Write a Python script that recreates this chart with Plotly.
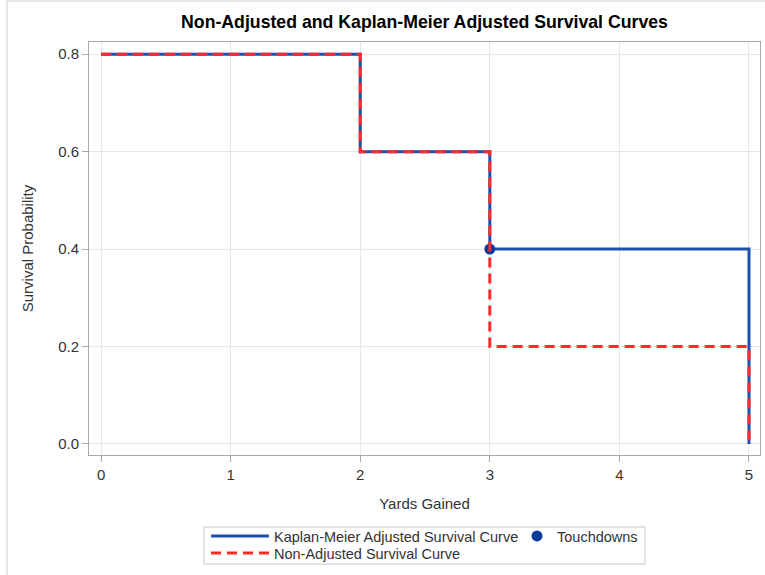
import plotly.graph_objects as go

# Data
yards_km = [0, 2, 3, 5]
surv_km = [0.8, 0.6, 0.4, 0.0]
yards_na = [0, 2, 3, 5]
surv_na = [0.8, 0.6, 0.2, 0.0]
td_yards = [3]
td_surv = [0.4]
x_ticks = [0, 1, 2, 3, 4, 5]
y_ticks = [0.0, 0.2, 0.4, 0.6, 0.8]

W, H = 765, 575
L, R, T, B = 89, 5, 42, 120
pw = W - L - R
ph = H - T - B

def px_x(p):
    return (p - L) / pw

def px_y(p):
    return (H - B - p) / ph

FONT = "Liberation Sans, Arial, sans-serif"
TXT = "#333333"

fig = go.Figure()
fig.add_trace(go.Scatter(
    x=yards_km, y=surv_km, mode="lines", line_shape="hv",
    line=dict(color="#1d4fae", width=3),
    name="Kaplan-Meier Adjusted Survival Curve", legend="legend"))
fig.add_trace(go.Scatter(
    x=td_yards, y=td_surv, mode="markers",
    marker=dict(color="#0a3a9e", size=11),
    name="Touchdowns", legend="legend3"))
fig.add_trace(go.Scatter(
    x=yards_na, y=surv_na, mode="lines", line_shape="hv",
    line=dict(color="#ff2a2a", width=3, dash="10px,6px"),
    name="Non-Adjusted Survival Curve", legend="legend2"))

axis_common = dict(
    showline=True, mirror=True, linecolor="#a8a8a8", linewidth=1,
    showgrid=True, gridcolor="#e6e6e6", gridwidth=1,
    ticks="outside", ticklen=6, tickcolor="#a8a8a8",
    tickfont=dict(family=FONT, size=15, color=TXT),
    zeroline=False, automargin=False,
)

leg_common = dict(orientation="h", xanchor="left", yanchor="top",
                  xref="container", yref="container",
                  bgcolor="rgba(0,0,0,0)", borderwidth=0,
                  font=dict(family=FONT, size=14.5, color=TXT))

fig.update_layout(
    width=W, height=H,
    margin=dict(l=L, r=R, t=T, b=B, autoexpand=False),
    paper_bgcolor="white", plot_bgcolor="white",
    font=dict(family=FONT, size=14, color=TXT),
    title=dict(text="<b>Non-Adjusted and Kaplan-Meier Adjusted Survival Curves</b>",
               x=0.5, xref="paper", xanchor="center",
               y=1 - 22 / H, yanchor="middle",
               font=dict(family=FONT, size=17.7, color="#000000")),
    xaxis=dict(range=[-0.093, 5.085], tickvals=x_ticks,
               ticktext=[str(v) for v in x_ticks],
               title=dict(text="Yards Gained", standoff=16,
                          font=dict(family=FONT, size=15, color=TXT)),
               **axis_common),
    yaxis=dict(range=[-0.0226, 0.825], tickvals=y_ticks,
               ticktext=[f"{v:.1f}" for v in y_ticks],
               title=dict(text="Survival Probability", standoff=20,
                          font=dict(family=FONT, size=15, color=TXT)),
               **axis_common),
    legend=dict(x=206 / W, y=1 - 520 / H, itemwidth=58, **leg_common),
    legend2=dict(x=206 / W, y=1 - 537 / H, itemwidth=58, **leg_common),
    legend3=dict(x=517 / W, y=1 - 520 / H, itemwidth=30, **leg_common),
    showlegend=True,
)

# legend frame
fig.add_shape(type="rect", xref="paper", yref="paper",
              x0=px_x(204), x1=px_x(645), y0=px_y(527), y1=px_y(564),
              line=dict(color="#c8c8c8", width=1), fillcolor="rgba(0,0,0,0)",
              layer="below")
# outer frame
fig.add_shape(type="rect", xref="paper", yref="paper",
              x0=px_x(7), x1=px_x(780), y0=px_y(1), y1=px_y(590),
              line=dict(color="#d0d0d0", width=1), fillcolor="rgba(0,0,0,0)",
              layer="below")

fig.write_html("out.html", config={"displayModeBar": False},
               post_script="document.body.style.margin='0';document.body.style.overflow='hidden';")
